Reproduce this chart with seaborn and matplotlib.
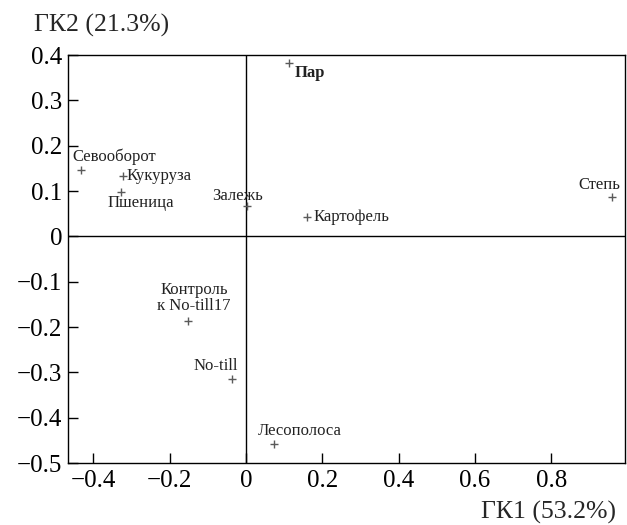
import matplotlib
matplotlib.use("Agg")
import matplotlib.pyplot as plt
import seaborn as sns
import pandas as pd

# PCA scores
names = ["Пар", "Севооборот", "Кукуруза", "Пшеница", "Залежь", "Картофель",
         "Степь", "Контроль\nк No-till17", "No-till", "Лесополоса"]
gk1 = [0.113, -0.433, -0.323, -0.328, 0.003, 0.160, 0.959, -0.152, -0.036, 0.074]
gk2 = [0.382, 0.146, 0.133, 0.098, 0.067, 0.042, 0.087, -0.187, -0.315, -0.459]

df = pd.DataFrame({"name": names, "gk1": gk1, "gk2": gk2})

# label placement: offset in pixels, horizontal alignment, vertical alignment
lab = {
    "Пар": (5, -2, "left", "top"),
    "Севооборот": (-8, 5, "left", "bottom"),
    "Кукуруза": (4, 0, "left", "center"),
    "Пшеница": (-13, -3, "left", "top"),
    "Залежь": (-10, 2, "center", "bottom"),
    "Картофель": (6, 0, "left", "center"),
    "Степь": (8, 4, "right", "bottom"),
    "Контроль\nк No-till17": (6, 7, "center", "bottom"),
    "No-till": (6, 5, "right", "bottom"),
    "Лесополоса": (25, 5, "center", "bottom"),
}

sns.set_style("white")
plt.rcParams["font.family"] = ["Liberation Serif", "DejaVu Serif"]

fig = plt.figure(figsize=(6.27, 5.25), dpi=100)
ax = fig.add_axes([0.108, 0.118, 0.889, 0.777])

ax.axhline(0, color="black", lw=1, zorder=1)
ax.axvline(0, color="black", lw=1, zorder=1)

sns.scatterplot(data=df, x="gk1", y="gk2", marker="+", color="#5a5a5a",
                s=40, linewidth=1, ax=ax, zorder=3)

for n, x, y in zip(names, gk1, gk2):
    dx, dy, ha, va = lab[n]
    ax.annotate(n, (x, y), xytext=(dx * 0.72, dy * 0.72), textcoords="offset points",
                ha=ha, va=va, fontsize=12, color="#222222",
                fontweight="bold" if n == "Пар" else "normal",
                linespacing=1.05, multialignment="center")

ax.set_xlim(-0.467, 0.993)
ax.set_ylim(-0.5, 0.4)
ax.set_xticks([-0.4, -0.2, 0, 0.2, 0.4, 0.6, 0.8])
ax.set_xticklabels(["−0.4", "−0.2", "0", "0.2", "0.4", "0.6", "0.8"])
ax.set_yticks([0.4, 0.3, 0.2, 0.1, 0, -0.1, -0.2, -0.3, -0.4, -0.5])
ax.set_yticklabels(["0.4", "0.3", "0.2", "0.1", "0", "−0.1", "−0.2", "−0.3", "−0.4", "−0.5"])
ax.tick_params(axis="both", direction="in", length=7, width=1, labelsize=18,
               colors="black", left=True, bottom=True)
ax.tick_params(axis="y", pad=4)
ax.tick_params(axis="x", pad=5)
for s in ax.spines.values():
    s.set_color("black")
    s.set_linewidth(1)
ax.set_xlabel("")
ax.set_ylabel("")

fig.text(0.055, 0.952, "ГК2 (21.3%)", fontsize=18.5, ha="left", va="center")
fig.text(0.982, 0.023, "ГК1 (53.2%)", fontsize=18.5, ha="right", va="center")

fig.savefig("out.png", dpi=100)
